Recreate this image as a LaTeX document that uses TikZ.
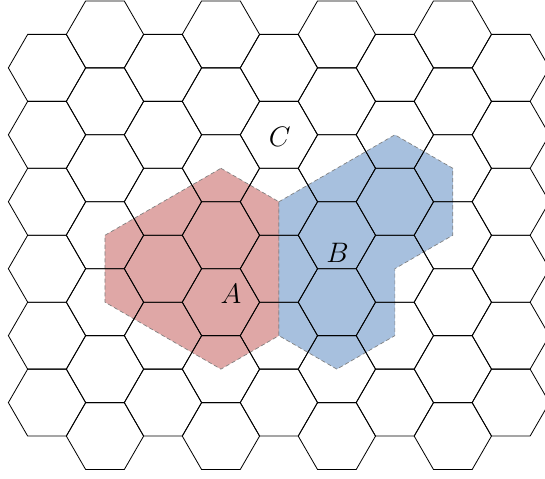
\documentclass[tikz,border=0pt]{standalone}
\usepackage{tikz}
\usetikzlibrary{backgrounds}
\definecolor{regionred}{HTML}{C0504D}
\definecolor{regionblue}{HTML}{4F81BD}
\tikzset{
  hexline/.style={line width=0.6pt, black},
  region/.style={draw=gray, densely dashed, line width=0.5pt, fill opacity=0.5},
  cellname/.style={font=\huge},
}
\def\hexcell(#1,#2){\draw[hexline] (#1,#2) ++(0:1) -- ++(120:1) -- ++(180:1) -- ++(240:1) -- ++(300:1) -- ++(0:1) -- cycle;}

\begin{document}
\begin{tikzpicture}
			%%%%% START %%%%%
			
			\useasboundingbox (-1.216, 0.89) rectangle (12.885, -11.503);
			\clip (-1.216, 0.89) rectangle (12.885, -11.503);
			
			% grid of cells, odd columns sit half a cell higher
			\foreach \i in {0,...,8}{
				\pgfmathtruncatemacro\last{6-mod(\i+1,2)}
				\pgfmathsetmacro\yoff{-0.8660254*mod(\i+1,2)}
				\foreach \k in {0,...,\last}{
					\coordinate (h\i-\k) at (1.5*\i, \yoff-1.7320508*\k);
					\hexcell(1.5*\i,\yoff-1.7320508*\k)
				}
			}
			
			\begin{scope}[on background layer]
				\filldraw[region, fill=regionred] (h3-2) -- (h4-2) -- (h4-4) -- (h3-5) -- (h1-4) -- (h1-3) -- cycle;
				\filldraw[region, fill=regionblue] (h4-2) -- (h6-1) -- (h7-2) -- (h7-3) -- (h6-3) -- (h6-4) -- (h5-5) -- (h4-4) -- cycle;
			\end{scope}
			
			\node[cellname] (nameA) at (4.76, -6.71) {$A$};
			\node[cellname] (nameB) at (7.52, -5.64) {$B$};
			\node[cellname] (nameC) at (6.02, -2.66) {$C$};
			
			%%%%% END %%%%%
\end{tikzpicture}
\end{document}
